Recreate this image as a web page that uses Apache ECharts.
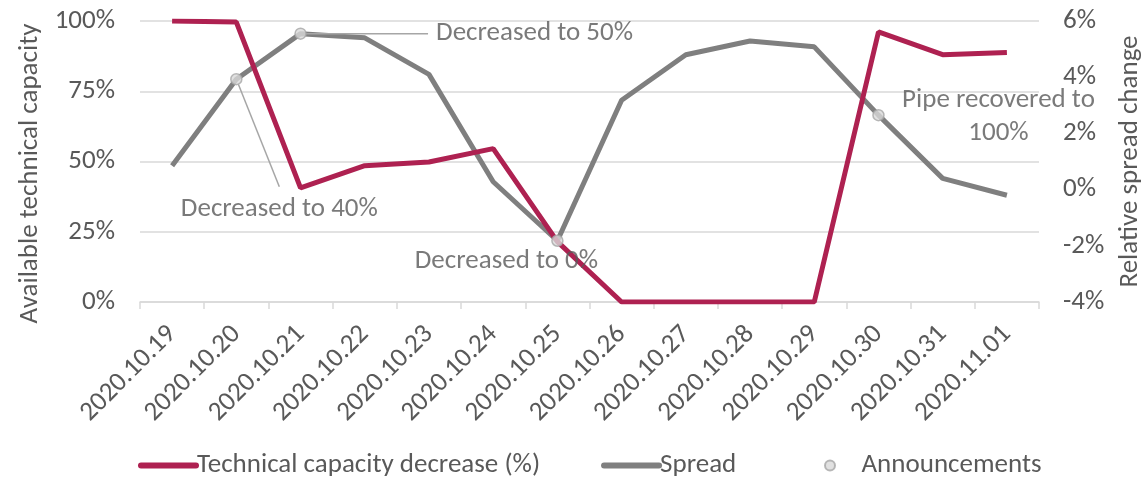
<!DOCTYPE html>
<html>
<head>
<meta charset="utf-8">
<script src="https://cdn.jsdelivr.net/npm/echarts@6/dist/echarts.min.js"></script>
<style>
  html, body { margin: 0; background: #fff; }
  #chart { width: 1143px; height: 479px; }
</style>
</head>
<body>
<div id="chart"></div>
<script>
const dates = ['2020.10.19', '2020.10.20', '2020.10.21', '2020.10.22', '2020.10.23', '2020.10.24', '2020.10.25',
  '2020.10.26', '2020.10.27', '2020.10.28', '2020.10.29', '2020.10.30', '2020.10.31', '2020.11.01'];
const capacity = [100, 99.6, 40.6, 48.5, 49.8, 54.6, 21.5, 0, 0, 0, 0, 96.1, 88.0, 88.8];
const spread = [0.85, 3.93, 5.55, 5.4, 4.1, 0.28, -1.82, 3.18, 4.8, 5.29, 5.08, 2.65, 0.4, -0.2];
const announcements = ['-', 3.93, 5.55, '-', '-', '-', -1.82, '-', '-', '-', '-', 2.65, '-', '-'];
const announcementTexts = ['', 'Decreased to 40%', 'Decreased to 50%', '', '', '', 'Decreased to 0%',
  '', '', '', '', 'Pipe recovered to\n100%', '', ''];

const FONT = 'Carlito, Lato, sans-serif';
const FS = 27;
const TXT = '#595959';
const GRID = '#d9d9d9';

// where each annotation sits relative to its marker, and whether it has a leader line
const labelPlace = {
  1: { dx: 43, dy: 130, line: true },
  2: { dx: 234, dy: 0, line: true },
  6: { dx: -51, dy: 21, line: false },
  11: { dx: 120, dy: 2, line: false }
};

const annData = announcements.map((v, i) => ({
  value: v,
  label: {
    show: !!announcementTexts[i],
    formatter: announcementTexts[i],
    padding: [6, 8]
  },
  labelLine: { show: !!(labelPlace[i] && labelPlace[i].line) }
}));

const legendBase = {
  top: 447,
  itemWidth: 55,
  itemHeight: 10,
  itemGap: 61,
  textStyle: { fontSize: FS, color: TXT, fontFamily: FONT, padding: [0, 0, 0, -4] }
};

const chart = echarts.init(document.getElementById('chart'));

chart.setOption({
  backgroundColor: '#fff',
  textStyle: { fontFamily: FONT },
  grid: { left: 140, right: 104, top: 21, bottom: 177, containLabel: false, outerBoundsMode: 'none' },
  // two legend blocks: the marker entry sits further right than the item gap allows
  legend: [
    Object.assign({}, legendBase, {
      left: 133,
      data: [
        { name: 'Technical capacity decrease (%)', itemStyle: { opacity: 0 }, lineStyle: { width: 6, cap: 'round' } },
        { name: 'Spread', itemStyle: { opacity: 0 }, lineStyle: { width: 6, cap: 'round' } }
      ]
    }),
    Object.assign({}, legendBase, {
      left: 819,
      data: ['Announcements'],
      textStyle: { fontSize: FS, color: TXT, fontFamily: FONT, padding: [0, 0, 0, -1] }
    })
  ],
  xAxis: {
    type: 'category',
    data: dates,
    boundaryGap: true,
    axisLine: { lineStyle: { color: GRID, width: 1.5 } },
    axisTick: { show: true, length: 7, lineStyle: { color: GRID, width: 1.5 } },
    axisLabel: { rotate: 45, margin: 28, fontSize: FS, color: TXT, fontFamily: FONT }
  },
  yAxis: [
    {
      type: 'value',
      min: 0, max: 100, interval: 25,
      name: 'Available technical capacity',
      nameLocation: 'middle',
      nameGap: 82,
      nameRotate: 90,
      nameTextStyle: { fontSize: FS, color: TXT, fontFamily: FONT, padding: [0, 24, 0, 0] },
      axisLine: { show: false },
      axisTick: { show: false },
      axisLabel: { formatter: '{value}%', margin: 25, fontSize: FS, color: TXT, fontFamily: FONT },
      splitLine: { lineStyle: { color: GRID, width: 1.5 } }
    },
    {
      type: 'value',
      min: -4, max: 6, interval: 2,
      name: 'Relative spread change',
      nameLocation: 'middle',
      nameGap: 78,
      nameRotate: 90,
      nameTextStyle: { fontSize: FS, color: TXT, fontFamily: FONT },
      axisLine: { show: false },
      axisTick: { show: false },
      axisLabel: { formatter: '{value}%', margin: 24, fontSize: FS, color: TXT, fontFamily: FONT },
      splitLine: { show: false }
    }
  ],
  series: [
    {
      name: 'Spread',
      type: 'line',
      yAxisIndex: 1,
      data: spread,
      symbol: 'none',
      lineStyle: { color: '#7f7f7f', width: 5 },
      itemStyle: { color: '#7f7f7f' }
    },
    {
      name: 'Technical capacity decrease (%)',
      type: 'line',
      yAxisIndex: 0,
      data: capacity,
      symbol: 'none',
      lineStyle: { color: '#ae2151', width: 5 },
      itemStyle: { color: '#ae2151' }
    },
    {
      name: 'Announcements',
      type: 'scatter',
      yAxisIndex: 1,
      data: annData,
      symbol: 'circle',
      symbolSize: 11,
      z: 5,
      itemStyle: { color: '#d9d9d9', borderColor: '#a6a6a6', borderWidth: 1.5 },
      label: {
        position: 'inside',
        fontSize: FS,
        color: TXT,
        fontFamily: FONT,
        align: 'center',
        lineHeight: 33
      },
      labelLine: { lineStyle: { color: '#a6a6a6', width: 1.5 } },
      labelLayout: (p) => {
        const lp = labelPlace[p.dataIndex];
        return lp ? { dx: lp.dx, dy: lp.dy } : {};
      },
      emphasis: { disabled: true }
    }
  ]
});

window.addEventListener('resize', () => chart.resize());
</script>
</body>
</html>
